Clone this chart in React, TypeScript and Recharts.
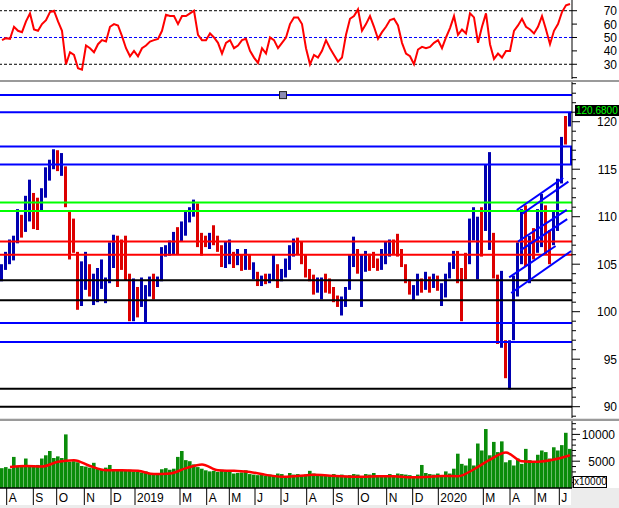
import {
  ComposedChart,
  LineChart,
  Line,
  Bar,
  Cell,
  XAxis,
  YAxis,
  ReferenceLine,
  ReferenceDot,
} from 'recharts';

// one bar per ~3 trading days, Jul 2018 - Jun 2020
const priceLow = [
  103.2, 104.4, 105.0, 105.4, 107.2, 107.8, 108.4, 109.5, 108.7, 108.6,
  110.5, 112.0, 113.8, 115.0, 114.8, 114.3, 111.0, 105.5, 106.2, 100.2,
  100.6, 102.3, 101.6, 100.7, 101.0, 102.4, 100.9, 103.0, 104.6, 102.6,
  104.4, 103.3, 99.0, 99.0, 99.4, 100.5, 98.9, 101.6, 101.3, 102.6,
  103.2, 105.8, 105.9, 106.0, 106.0, 107.4, 108.0, 109.4, 110.0, 106.8,
  105.9, 106.8, 106.6, 107.0, 106.3, 104.7, 104.6, 105.0, 104.6, 104.9,
  104.3, 104.4, 104.4, 103.4, 102.7, 102.7, 102.9, 103.0, 103.3, 102.5,
  103.2, 103.6, 104.4, 105.8, 106.0, 105.0, 103.6, 103.2, 101.8, 102.0,
  101.3, 102.0, 101.9, 101.0, 100.5, 99.6, 100.5, 102.3, 104.7, 104.0,
  100.5, 104.2, 104.3, 104.6, 104.3, 104.4, 105.0, 105.8, 106.0, 105.8,
  104.7, 103.0, 101.8, 101.2, 101.7, 102.0, 102.3, 102.0, 102.5, 102.2,
  100.6, 101.5, 103.5, 104.5, 103.0, 99.0, 103.4, 105.0, 107.5, 103.4,
  105.8, 108.5, 106.5, 103.5, 96.6, 96.2, 93.0, 91.8, 97.0, 101.6,
  105.0, 104.8, 103.0, 105.5, 106.2, 106.8, 106.0, 105.0, 107.0, 108.5,
  113.5, 117.6, 119.5,
];

const priceHigh = [
  105.0, 106.3, 107.6, 108.0, 110.8, 110.2, 112.2, 113.9, 112.5, 112.0,
  113.0, 115.2, 116.0, 117.1, 117.0, 116.7, 115.3, 110.5, 109.8, 106.3,
  105.3, 106.3, 105.0, 104.0, 104.6, 105.5, 103.6, 107.3, 108.1, 108.0,
  107.6, 108.0, 104.0, 103.5, 102.6, 103.6, 102.8, 103.7, 104.0, 103.7,
  106.8, 107.0, 107.5, 108.4, 108.9, 109.5, 110.6, 111.0, 111.8, 111.4,
  108.3, 108.0, 108.3, 109.1, 108.0, 107.0, 107.4, 107.6, 106.3, 106.6,
  106.0, 106.6, 106.0, 105.2, 104.2, 103.8, 104.0, 104.0, 106.0, 105.0,
  104.5, 105.6, 107.0, 107.7, 107.8, 107.4, 106.0, 104.5, 103.9, 103.6,
  103.6, 104.0, 103.5, 102.6, 101.7, 101.6, 102.6, 106.0, 107.9, 106.6,
  106.0, 106.4, 106.1, 106.3, 105.6, 106.6, 107.4, 107.6, 107.6, 108.2,
  106.6, 105.0, 103.4, 102.8, 104.0, 103.5, 104.2, 103.7, 104.0, 103.8,
  103.0, 104.0, 105.2, 106.4, 106.4, 104.6, 106.2, 109.8, 111.0, 110.0,
  111.0, 115.5, 116.8, 108.3, 103.9, 104.3, 97.0, 97.0, 103.8, 107.3,
  110.8, 111.2, 108.0, 108.8, 110.8, 112.4, 111.2, 108.6, 110.6, 114.0,
  118.4, 120.6, 121.0,
];

// 1 = closed up (blue), 0 = closed down (red)
const priceUp = [
  1, 1, 1, 1, 1, 0, 1, 1, 0, 0,
  1, 1, 1, 1, 0, 1, 0, 0, 0, 0,
  1, 1, 0, 1, 1, 1, 1, 1, 1, 0,
  0, 0, 0, 1, 0, 1, 1, 1, 0, 1,
  1, 1, 1, 1, 0, 1, 1, 1, 1, 0,
  0, 0, 1, 0, 0, 0, 1, 1, 0, 1,
  0, 1, 0, 1, 0, 1, 0, 1, 1, 0,
  1, 1, 1, 1, 0, 0, 0, 0, 0, 1,
  1, 0, 0, 0, 0, 1, 1, 1, 1, 0,
  1, 1, 0, 0, 0, 1, 1, 1, 0, 0,
  0, 0, 0, 1, 1, 0, 1, 0, 1, 0,
  1, 1, 1, 1, 0, 0, 0, 1, 1, 1,
  0, 1, 1, 0, 0, 1, 0, 1, 1, 1,
  1, 0, 1, 0, 1, 1, 0, 0, 1, 1,
  1, 0, 1,
];

const rsi = [
  48, 49.5, 49, 58, 55, 54, 62, 68, 56, 55,
  60, 63, 69, 70, 62, 55, 30, 39, 37, 27,
  26, 44, 42, 39, 45, 48, 47, 58, 60, 59,
  51, 42, 36, 40, 36, 42, 44, 47, 48, 49,
  55, 67, 66, 66, 60, 66, 66, 68, 70, 52,
  48, 48, 53, 50, 46, 38, 46, 48, 42, 44,
  48, 49, 40, 35, 31, 42, 38, 50, 48, 42,
  46, 50, 60, 65, 65, 60, 42, 30, 37, 35,
  40, 48, 42, 37, 32, 35, 52, 64, 66, 71,
  55, 60, 66, 58, 49, 54, 58, 63, 64, 59,
  46, 38, 36, 30, 41, 43, 42, 43, 46, 48,
  42, 50, 57, 66, 52, 56, 53, 68, 65, 46,
  58, 68, 45, 34, 38, 35, 40, 40, 55, 59,
  64, 58, 56, 53, 58, 66, 56, 45, 55, 60,
  69, 74, 75,
];

const volume = [
  3700, 3900, 3600, 5800, 4000, 4300, 5500, 4200, 4100, 4300,
  5500, 6100, 6900, 5600, 5900, 5600, 10000, 4900, 5000, 4800,
  4100, 4000, 3800, 4700, 3600, 3500, 3800, 4300, 3400, 3300,
  3200, 3300, 3400, 3100, 3000, 2900, 3100, 2700, 2600, 2800,
  3500, 3700, 3400, 3600, 5800, 6900, 5200, 5000, 4400, 3900,
  3600, 3300, 3100, 3200, 3000, 3400, 3100, 3000, 2700, 2800,
  2900, 3300, 2600, 2500, 2400, 2700, 2300, 2500, 2400, 2700,
  2600, 2200, 2800, 2500, 2600, 2300, 2500, 3200, 2700, 2400,
  2500, 2300, 2400, 2600, 2200, 2500, 2300, 2400, 2600, 2500,
  2200, 2600, 2500, 2800, 2400, 2300, 2200, 2600, 2300, 2700,
  2600, 2500, 2400, 2200, 2500, 4300, 2800, 2600, 2500, 2700,
  2400, 3100, 2700, 3600, 6400, 4500, 4200, 5500, 4200, 8300,
  7000, 11000, 6100, 8600, 6700, 8700, 4800, 5200, 4200, 5500,
  4500, 7300, 5200, 4800, 6200, 7000, 6700, 5500, 7600, 7000,
  8000, 10300, 7300,
];

// volume average, read every 4th bar starting at bar 2
const volumeMa = [
  3900, 4100, 4000, 4900, 5200, 4100, 3300, 3300, 3200, 2600,
  2700, 3700, 4400, 3300, 3200, 3000, 2450, 2100, 2250, 2450,
  2300, 2150, 2100, 2200, 2200, 2000, 2050, 2240, 2200, 3500,
  5300, 6600, 5000, 4900, 5300, 6100,
];

const monthLabels = ['A', 'S', 'O', 'N', 'D', '2019', 'M', 'A', 'M', 'J', 'J', 'A', 'S', 'O', 'N', 'D', '2020', 'M', 'A', 'M', 'J'];
const monthStart = [1.67, 8.33, 14.17, 21.08, 27.75, 33.75, 45, 51.67, 57.33, 63.75, 70.25, 76.67, 83.33, 89.58, 96.67, 103.17, 109.58, 120.83, 127.5, 133.75, 139.83];

const blueLevels = [122.8, 121.0, 117.4, 115.5, 98.8, 96.8];
const greenLevels = [111.5, 110.6];
const redLevels = [107.4, 106.0];
const blackLevels = [103.3, 101.2, 91.9, 90.0];

// hand-drawn trend channel segments [x1, y1, x2, y2] in bar / price units
const channelLines = [
  [129.2, 110.71, 140.8, 114.08],
  [130.5, 110.28, 142.1, 113.69],
  [129.5, 107.39, 141.7, 110.71],
  [130.1, 106.46, 141.8, 109.74],
  [127.3, 103.62, 138.9, 106.92],
  [127.8, 101.97, 142.8, 106.39],
];

const lastPrice = '120.6800';
const BARS = priceLow.length;

const rows = priceLow.map((lo, i) => ({
  x: i + 0.5,
  range: [lo, priceHigh[i]],
  up: priceUp[i] === 1,
  rsi: rsi[i],
  vol: volume[i],
  ma: i % 4 === 2 ? volumeMa[(i - 2) / 4] : null,
}));

const priceTicks: number[] = [];
for (let v = 89; v <= 124; v++) priceTicks.push(v);
const volTicks = [1000, 2000, 3000, 4000, 5000, 6000, 7000, 8000, 9000, 10000, 11000, 12000];

const RsiTick = ({ x, y, payload }: any) => (
  <g>
    <line x1={x} x2={x + 5} y1={y} y2={y} stroke="#000" />
    {payload.value >= 30 && (
      <text x={x + 45} y={y + 4.5} textAnchor="end" fontSize={12} fill="#000">{payload.value}</text>
    )}
  </g>
);

const PriceTick = ({ x, y, payload }: any) => {
  const major = payload.value % 5 === 0;
  return (
    <g>
      <line x1={x} x2={x + (major ? 8 : 4)} y1={y} y2={y} stroke="#000" />
      {major && (
        <text x={x + 45} y={y + 4.5} textAnchor="end" fontSize={12} fill="#000">{payload.value}</text>
      )}
    </g>
  );
};

const VolTick = ({ x, y, payload }: any) => {
  const major = payload.value % 5000 === 0;
  return (
    <g>
      <line x1={x} x2={x + (major ? 8 : 4)} y1={y} y2={y} stroke="#000" />
      {major && (
        <text x={x + 43} y={y + 4.5} textAnchor="end" fontSize={12} fill="#000">{payload.value}</text>
      )}
    </g>
  );
};

const MonthTick = ({ x, y, payload }: any) => {
  const label = monthLabels[monthStart.indexOf(payload.value)];
  return (
    <g>
      <line x1={x} x2={x} y1={y} y2={y + 17} stroke="#000" />
      <text x={x + 2} y={y + 14} fontSize={12} fill="#000">{label}</text>
    </g>
  );
};

const Marker = ({ cx, cy }: any) => (
  <rect x={cx - 3.5} y={cy - 3.5} width={7} height={7} fill="#8c8cb4" stroke="#202020" strokeWidth={1} />
);

export default function App() {
  return (
    <div style={{
      position: 'fixed', left: 0, top: 0, width: 619, height: 508,
      background: '#fff', overflow: 'hidden',
      fontFamily: 'Arial, "Liberation Sans", sans-serif',
    }}>
      {/* RSI panel */}
      <div style={{ position: 'absolute', left: 0, top: 0 }}>
        <LineChart width={619} height={80} data={rows} margin={{ top: 0, right: 0, bottom: 1, left: 0 }}>
          <XAxis dataKey="x" type="number" domain={[0, BARS]} hide />
          <YAxis
            orientation="right"
            width={47}
            domain={[19, 78]}
            ticks={[20, 30, 40, 50, 60, 70]}
            interval={0}
            tickSize={0}
            tickMargin={0}
            tickLine={false}
            axisLine={{ stroke: '#000' }}
            tick={RsiTick}
          />
          <ReferenceLine y={70} stroke="#000" strokeDasharray="3 2" />
          <ReferenceLine y={50} stroke="#0000ff" strokeDasharray="3 2" />
          <ReferenceLine y={30} stroke="#000" strokeDasharray="3 2" />
          <Line dataKey="rsi" stroke="#ff0000" strokeWidth={2} dot={false} activeDot={false} type="linear" isAnimationActive={false} />
        </LineChart>
      </div>

      <div style={{ position: 'absolute', left: 0, top: 80, width: 619, height: 2, background: '#9a9a9a' }} />

      {/* price panel */}
      <div style={{ position: 'absolute', left: 0, top: 82 }}>
        <ComposedChart width={619} height={336} data={rows} margin={{ top: 0, right: 0, bottom: 0, left: 0 }}>
          <XAxis dataKey="x" type="number" domain={[0, BARS]} hide />
          <YAxis
            orientation="right"
            width={47}
            domain={[88.81, 124.18]}
            allowDataOverflow
            ticks={priceTicks}
            interval={0}
            tickSize={0}
            tickMargin={0}
            tickLine={false}
            axisLine={{ stroke: '#000' }}
            tick={PriceTick}
          />
          {blueLevels.map((v) => (
            <ReferenceLine key={'b' + v} y={v} stroke="#0000ff" strokeWidth={2} />
          ))}
          {greenLevels.map((v) => (
            <ReferenceLine key={'g' + v} y={v} stroke="#00ff00" strokeWidth={2} />
          ))}
          {redLevels.map((v) => (
            <ReferenceLine key={'r' + v} y={v} stroke="#ff0000" strokeWidth={2} />
          ))}
          {blackLevels.map((v) => (
            <ReferenceLine key={'k' + v} y={v} stroke="#000" strokeWidth={2} />
          ))}
          <Bar dataKey="range" barSize={3} isAnimationActive={false}>
            {rows.map((r, i) => (
              <Cell key={i} fill={r.up ? '#0000b0' : '#dc0000'} />
            ))}
          </Bar>
          {channelLines.map((c, i) => (
            <ReferenceLine
              key={'c' + i}
              segment={[{ x: c[0], y: c[1] }, { x: c[2], y: c[3] }]}
              stroke="#0000ff"
              strokeWidth={2}
            />
          ))}
          <ReferenceLine
            segment={[{ x: 142.75, y: blueLevels[3] }, { x: 142.75, y: blueLevels[2] }]}
            stroke="#0000ff"
            strokeWidth={2}
          />
          <ReferenceDot x={70.75} y={blueLevels[0]} r={4} shape={Marker} />
        </ComposedChart>
      </div>

      <div style={{
        position: 'absolute', left: 575, top: 105, width: 43, height: 11,
        background: '#000', color: '#00ff00', fontSize: 10, lineHeight: '11px', paddingLeft: 1,
        whiteSpace: 'nowrap',
      }}>{lastPrice}</div>

      <div style={{ position: 'absolute', left: 0, top: 418, width: 619, height: 1, background: '#e2e2e2' }} />
      <div style={{ position: 'absolute', left: 0, top: 419, width: 619, height: 2, background: '#9a9a9a' }} />

      {/* volume panel */}
      <div style={{ position: 'absolute', left: 571, top: 488, width: 48, height: 20, background: '#ececec' }} />
      <div style={{ position: 'absolute', left: 0, top: 505, width: 619, height: 3, background: '#ececec' }} />
      <div style={{ position: 'absolute', left: 0, top: 421 }}>
        <ComposedChart width={619} height={84} data={rows} margin={{ top: 0, right: 0, bottom: 0, left: 0 }}>
          <XAxis
            dataKey="x"
            type="number"
            domain={[0, BARS]}
            ticks={monthStart}
            interval={0}
            height={17}
            tickSize={0}
            tickMargin={0}
            tickLine={false}
            axisLine={{ stroke: '#000', strokeWidth: 1.5 }}
            tick={MonthTick}
          />
          <YAxis
            orientation="right"
            width={47}
            domain={[0, 12500]}
            ticks={volTicks}
            interval={0}
            tickSize={0}
            tickMargin={0}
            tickLine={false}
            axisLine={{ stroke: '#000' }}
            tick={VolTick}
          />
          <Bar dataKey="vol" fill="#0a8c0a" barSize={4} isAnimationActive={false} />
          <Line dataKey="ma" stroke="#ff0000" strokeWidth={2.5} dot={false} activeDot={false} type="monotone" connectNulls isAnimationActive={false} />
        </ComposedChart>
      </div>

      <div style={{
        position: 'absolute', left: 573, top: 476, width: 32, height: 10,
        border: '1px solid #000', background: '#fff', fontSize: 10, lineHeight: '10px', textAlign: 'center',
      }}>x10000</div>
    </div>
  );
}
